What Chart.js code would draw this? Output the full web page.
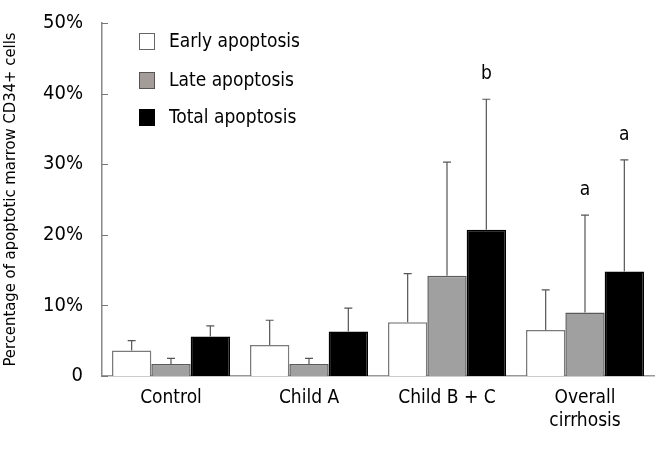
<!DOCTYPE html>
<html>
<head>
<meta charset="utf-8">
<script src="https://cdn.jsdelivr.net/npm/chart.js@4/dist/chart.umd.min.js"></script>
<style>
  html, body { margin: 0; padding: 0; background: #fff; }
</style>
</head>
<body>
<canvas id="chart" width="661" height="450"></canvas>
<script>
// values (percent of CD34+ cells)
const categories = ["Control", "Child A", "Child B + C", ["Overall", "cirrhosis"]];
const seriesNames = ["Early apoptosis", "Late apoptosis", "Total apoptosis"];
const earlyValues = [3.6, 4.4, 7.6, 6.5];
const lateValues = [1.7, 1.7, 14.2, 9.0];
const totalValues = [5.6, 6.3, 20.7, 14.8];
const earlyErrTop = [5.0, 7.9, 14.5, 12.2];
const lateErrTop = [2.5, 2.5, 30.3, 22.8];
const totalErrTop = [7.1, 9.6, 39.2, 30.6];
const earlyMarks = ["", "", "", ""];
const lateMarks = ["", "", "", "a"];
const totalMarks = ["", "", "b", "a"];
const yTicks = [0, 10, 20, 30, 40, 50];

const FONT = '"DejaVu Sans Condensed", "DejaVu Sans", sans-serif';
const errTops = [earlyErrTop, lateErrTop, totalErrTop];
const marks = [earlyMarks, lateMarks, totalMarks];

// whiskers (upper half only) + significance letters
const errorBars = {
  id: "errorBars",
  afterDatasetsDraw(chart) {
    const ctx = chart.ctx;
    const y = chart.scales.y;
    ctx.save();
    chart.data.datasets.forEach((ds, di) => {
      const meta = chart.getDatasetMeta(di);
      meta.data.forEach((bar, i) => {
        const top = y.getPixelForValue(errTops[di][i]);
        ctx.strokeStyle = "#555";
        ctx.lineWidth = 1.2;
        ctx.beginPath();
        ctx.moveTo(bar.x, bar.y);
        ctx.lineTo(bar.x, top);
        ctx.moveTo(bar.x - 4, top);
        ctx.lineTo(bar.x + 4, top);
        ctx.stroke();
        if (marks[di][i]) {
          ctx.fillStyle = "#000";
          ctx.font = "19px " + FONT;
          ctx.textAlign = "center";
          ctx.textBaseline = "alphabetic";
          ctx.fillText(marks[di][i], bar.x, top - 20);
        }
      });
    });
    ctx.restore();
  },
};

// tick marks point into the plot
const innerTicks = {
  id: "innerTicks",
  afterDraw(chart) {
    const ctx = chart.ctx;
    const y = chart.scales.y;
    const left = chart.chartArea.left;
    ctx.save();
    ctx.strokeStyle = "#777";
    ctx.lineWidth = 1;
    yTicks.forEach((v) => {
      const py = Math.round(y.getPixelForValue(v)) + 0.5;
      ctx.beginPath();
      ctx.moveTo(left, py);
      ctx.lineTo(left + 6, py);
      ctx.stroke();
    });
    ctx.restore();
  },
};

// legend in the upper-left corner of the plot
const boxLegend = {
  id: "boxLegend",
  afterDraw(chart) {
    const ctx = chart.ctx;
    const swatches = ["#ffffff", "#a39c98", "#000000"];
    const edges = ["#666", "#555", "#000"];
    const rowY = [41, 80, 117];
    ctx.save();
    seriesNames.forEach((name, i) => {
      ctx.fillStyle = swatches[i];
      ctx.strokeStyle = edges[i];
      ctx.lineWidth = 1;
      ctx.fillRect(139.5, rowY[i] - 7.5, 15, 16);
      ctx.strokeRect(139.5, rowY[i] - 7.5, 15, 16);
      ctx.fillStyle = "#000";
      ctx.font = "19px " + FONT;
      ctx.textAlign = "left";
      ctx.textBaseline = "middle";
      ctx.fillText(name, 169, rowY[i] + 1);
    });
    ctx.restore();
  },
};

new Chart(document.getElementById("chart"), {
  type: "bar",
  data: {
    labels: categories,
    datasets: [
      {
        label: seriesNames[0],
        data: earlyValues,
        backgroundColor: "#ffffff",
        borderColor: "#7a7a7a",
        borderWidth: 1.5,
      },
      {
        label: seriesNames[1],
        data: lateValues,
        backgroundColor: "#a0a0a0",
        borderColor: "#5a5a5a",
        borderWidth: 1.5,
      },
      {
        label: seriesNames[2],
        data: totalValues,
        backgroundColor: "#000000",
        borderColor: "#000000",
        borderWidth: 1.5,
      },
    ],
  },
  options: {
    responsive: false,
    animation: false,
    categoryPercentage: 0.855,
    barPercentage: 1.0,
    layout: { padding: { top: 8, right: 7, left: 0, bottom: 0 } },
    plugins: {
      legend: { display: false },
      tooltip: { enabled: false },
    },
    scales: {
      x: {
        grid: { display: false },
        border: { color: "#999", width: 1.5 },
        ticks: {
          color: "#000",
          font: { family: FONT, size: 19 },
          padding: 3,
          maxRotation: 0,
        },
        afterFit(scale) {
          scale.height = 74;
        },
      },
      y: {
        min: 0,
        max: 50,
        grid: { display: false },
        border: { color: "#888", width: 1.5 },
        afterBuildTicks(scale) {
          scale.ticks = yTicks.map((v) => ({ value: v }));
        },
        ticks: {
          color: "#000",
          font: { family: FONT, size: 20 },
          padding: 11,
          callback: (v) => (v === 0 ? "0" : v + "%"),
        },
        title: {
          display: true,
          text: "Percentage of apoptotic marrow CD34+ cells",
          color: "#000",
          font: { family: FONT, size: 16.5 },
          padding: { top: 1, bottom: 4 },
        },
        afterFit(scale) {
          scale.width = 102;
        },
      },
    },
  },
  plugins: [errorBars, innerTicks, boxLegend],
});
</script>
</body>
</html>
